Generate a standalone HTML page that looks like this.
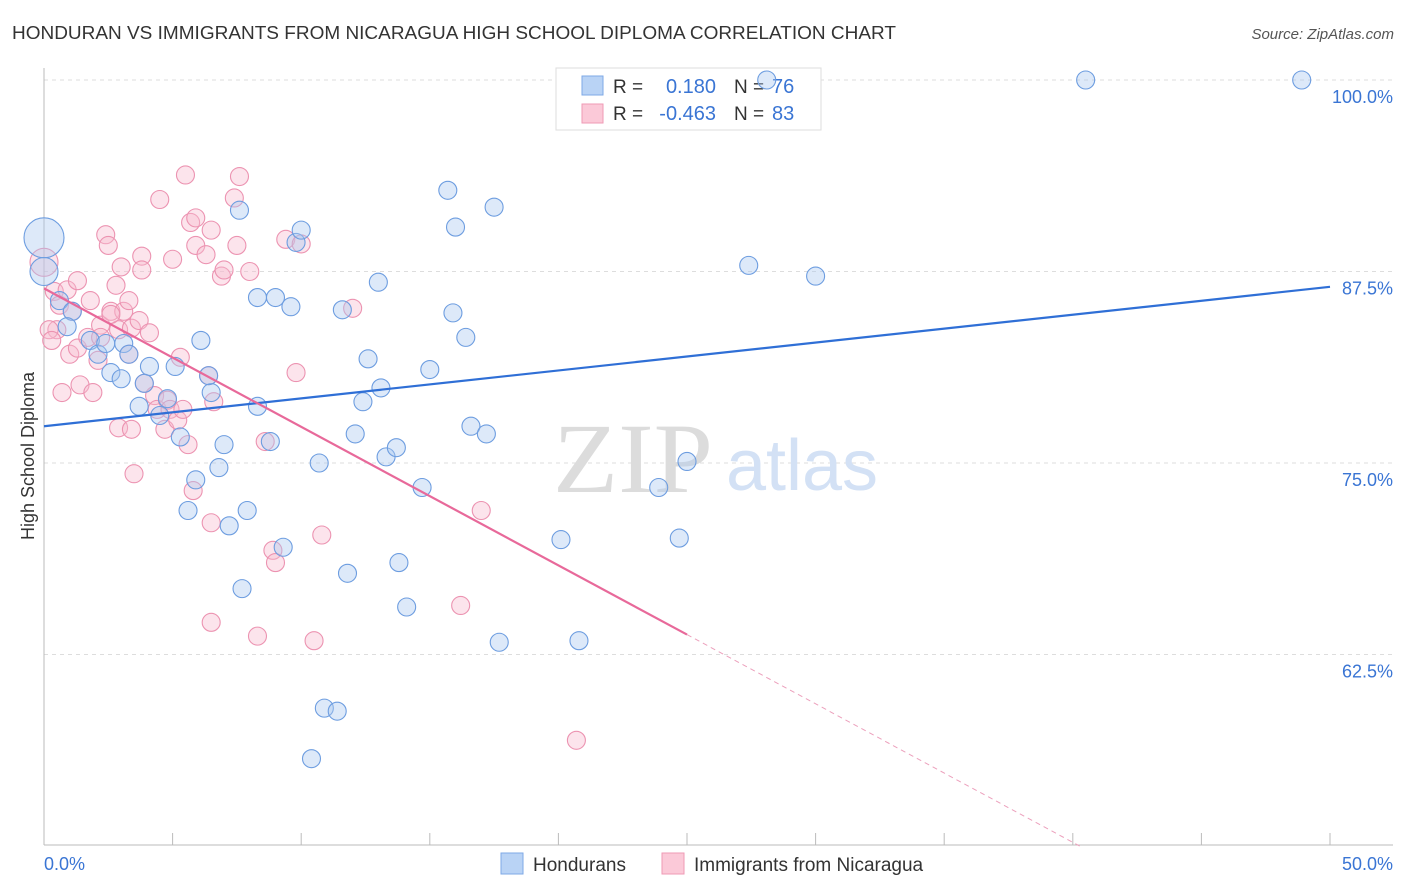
<!DOCTYPE html>
<html><head><meta charset="utf-8"><style>
body{margin:0;background:#fff;font-family:"Liberation Sans",sans-serif;}
svg{display:block}
</style></head><body>
<svg id="chart" width="1406" height="892" viewBox="0 0 1406 892">
<text x="12" y="39" font-size="18" fill="#333" textLength="884" lengthAdjust="spacingAndGlyphs">HONDURAN VS IMMIGRANTS FROM NICARAGUA HIGH SCHOOL DIPLOMA CORRELATION CHART</text>
<text x="1394" y="39" font-size="15" fill="#555" font-style="italic" text-anchor="end">Source: ZipAtlas.com</text>
<g id="grid"></g>
<g>
<text x="633" y="492" font-size="100" font-family="Liberation Serif,serif" fill="#dcdcdc" text-anchor="middle" textLength="160" lengthAdjust="spacingAndGlyphs">ZIP</text>
<text x="802" y="490" font-size="72" fill="#d3e1f5" text-anchor="middle">atlas</text>
</g>
<line x1="44" y1="68" x2="44" y2="845" stroke="#bbb"/>
<line x1="44" y1="845" x2="1393" y2="845" stroke="#bbb"/>
<g id="xticks"></g>
<g id="ylabels"></g>
<text x="44" y="870" font-size="18" fill="#3a75d4" text-anchor="start">0.0%</text>
<text x="1393" y="870" font-size="18" fill="#3a75d4" text-anchor="end">50.0%</text>
<text transform="translate(34,456) rotate(-90)" font-size="18" fill="#333" text-anchor="middle">High School Diploma</text>
<g>
<rect x="556" y="68" width="265" height="62" fill="#fff" stroke="#ddd"/>
<rect x="582" y="76" width="21" height="19" fill="#b9d3f5" stroke="#7ea8e6"/>
<rect x="582" y="104" width="21" height="19" fill="#fbc9d8" stroke="#ef9ab5"/>
<text x="613" y="93" font-size="19" fill="#333">R = </text><text x="716" y="93" font-size="20" fill="#3a75d4" text-anchor="end">0.180</text>
<text x="734" y="93" font-size="19" fill="#333">N = </text><text x="772" y="93" font-size="20" fill="#3a75d4">76</text>
<text x="613" y="120" font-size="19" fill="#333">R = </text><text x="716" y="120" font-size="20" fill="#3a75d4" text-anchor="end">-0.463</text>
<text x="734" y="120" font-size="19" fill="#333">N = </text><text x="772" y="120" font-size="20" fill="#3a75d4">83</text>
</g>
<g id="pink"></g>
<g id="blue"></g>
<g id="lines"></g>
<g>
<rect x="501" y="853" width="22" height="21" fill="#b9d3f5" stroke="#7ea8e6"/>
<text x="533" y="871" font-size="19" fill="#333">Hondurans</text>
<rect x="662" y="853" width="22" height="21" fill="#fbc9d8" stroke="#ef9ab5"/>
<text x="694" y="871" font-size="19" fill="#333">Immigrants from Nicaragua</text>
</g>
</svg>
<script>
const yTicks=[100,87.5,75,62.5];
const yTickLabels=["100.0%","87.5%","75.0%","62.5%"];
const xTicks=[0,5,10,15,20,25,30,35,40,45,50];
const blueX=[0,0,0.6,1.1,0.9,1.8,2.1,2.4,3.1,3.3,2.6,3.0,3.7,4.1,3.9,4.8,4.5,5.1,5.3,5.9,5.6,6.1,6.5,6.4,6.8,7.0,7.2,7.6,7.9,7.7,8.3,8.3,8.8,9.0,9.6,9.3,9.8,10.0,10.7,10.9,11.4,10.4,11.6,11.8,12.1,12.4,12.6,13.0,13.1,13.3,13.7,13.8,14.1,14.7,15.0,15.7,16.0,15.9,16.4,16.6,17.2,17.5,17.7,20.1,20.8,23.9,24.7,25.0,27.4,28.1,30.0,40.5,48.9];
const blueY=[89.7,87.5,85.6,84.9,83.9,83.0,82.1,82.8,82.8,82.1,80.9,80.5,78.7,81.3,80.2,79.2,78.1,81.3,76.7,73.9,71.9,83.0,79.6,80.7,74.7,76.2,70.9,91.5,71.9,66.8,85.8,78.7,76.4,85.8,85.2,69.5,89.4,90.2,75.0,59.0,58.8,55.7,85.0,67.8,76.9,79.0,81.8,86.8,79.9,75.4,76.0,68.5,65.6,73.4,81.1,92.8,90.4,84.8,83.2,77.4,76.9,91.7,63.3,70.0,63.4,73.4,70.1,75.1,87.9,100.0,87.2,100,100];
const blueR=[20,14];
const pinkX=[0,0.4,0.5,0.6,0.9,1.1,1.3,1.8,0.7,1.0,1.4,1.3,1.9,2.1,2.2,2.4,2.5,1.7,2.8,3.0,2.6,2.9,3.1,3.3,3.3,3.4,3.7,3.8,3.8,4.1,3.5,2.9,3.4,3.9,4.3,4.5,4.4,4.7,4.8,5.0,4.9,5.2,5.3,5.4,5.5,5.7,5.9,5.6,5.8,5.9,6.3,6.4,6.5,6.6,6.5,6.5,6.9,7.0,7.4,7.5,7.6,8.0,8.3,8.6,8.9,9.0,9.4,10.0,9.8,10.8,10.5,12.0,16.2,17.0,20.7,0.2,0.3,2.2,2.6];
const pinkY=[88.1,86.2,83.7,85.3,86.3,84.9,86.9,85.6,79.6,82.1,80.1,82.5,79.6,81.7,84.0,89.9,89.2,83.2,86.6,87.8,84.9,83.7,84.9,85.6,82.1,83.8,84.3,88.5,87.6,83.5,74.3,77.3,77.2,80.2,79.4,92.2,78.5,77.2,79.1,88.3,78.5,77.8,81.9,78.5,93.8,90.7,91.0,76.2,73.2,89.2,88.6,80.7,90.2,79.0,71.1,64.6,87.2,87.6,92.3,89.2,93.7,87.5,63.7,76.4,69.3,68.5,89.6,89.3,80.9,70.3,63.4,85.1,65.7,71.9,56.9,83.7,83.0,83.2,84.7];
const pinkR=[14];
const blueTrend=[77.4,86.5];
const pinkTrend=[86.4,-0.904];
const pinkSolidEnd=25;
const NS='http://www.w3.org/2000/svg';
const sx=v=>44+v*(1286/50);
const sy=v=>80+(100-v)*15.32;
function mk(t,a,p){const e=document.createElementNS(NS,t);for(const k in a)e.setAttribute(k,a[k]);p.appendChild(e);return e;}
const grid=document.getElementById('grid'),yl=document.getElementById('ylabels');
yTicks.forEach((t,i)=>{
 const l=mk('line',{x1:44,x2:1393,y1:sy(t),y2:sy(t),stroke:'#ddd','stroke-dasharray':'4,4'},grid);
 
 
 const tx=mk('text',{x:1393,y:sy(t)+23,'font-size':18,fill:'#3a75d4','text-anchor':'end'},yl);
 tx.textContent=yTickLabels[i];
 
 
});
const xt=document.getElementById('xticks');
xTicks.forEach(t=>{
 const l=mk('line',{x1:sx(t),x2:sx(t),y1:833,y2:845,stroke:'#bbb'},xt);
 
 
});
const bg=document.getElementById('blue');
blueX.forEach((x,i)=>{
 const c=mk('circle',{cx:sx(x),cy:sy(blueY[i]),r:blueR[i]||9,fill:'#a9c8f0','fill-opacity':0.4,stroke:'#6d9de0','stroke-width':1.1},bg);
 
 
});
const pg=document.getElementById('pink');
pinkX.forEach((x,i)=>{
 const c=mk('circle',{cx:sx(x),cy:sy(pinkY[i]),r:pinkR[i]||9,fill:'#f8bcd0','fill-opacity':0.4,stroke:'#ec93b1','stroke-width':1.1},pg);
 
 
});
const lg=document.getElementById('lines');
const bl=mk('line',{x1:sx(0),y1:sy(blueTrend[0]),x2:sx(50),y2:sy(blueTrend[1]),stroke:'#2f6fd6','stroke-width':2.2},lg);


const pf=x=>pinkTrend[0]+pinkTrend[1]*x;
const pl=mk('line',{x1:sx(0),y1:sy(pf(0)),x2:sx(pinkSolidEnd),y2:sy(pf(pinkSolidEnd)),stroke:'#e8699a','stroke-width':2.2},lg);


const xEnd=(50-pinkTrend[0])/pinkTrend[1];
const pd=mk('line',{x1:sx(pinkSolidEnd),y1:sy(pf(pinkSolidEnd)),x2:sx(xEnd),y2:sy(50),stroke:'#eca0bc','stroke-width':1,'stroke-dasharray':'5,4'},lg);


</script>
</body></html>
